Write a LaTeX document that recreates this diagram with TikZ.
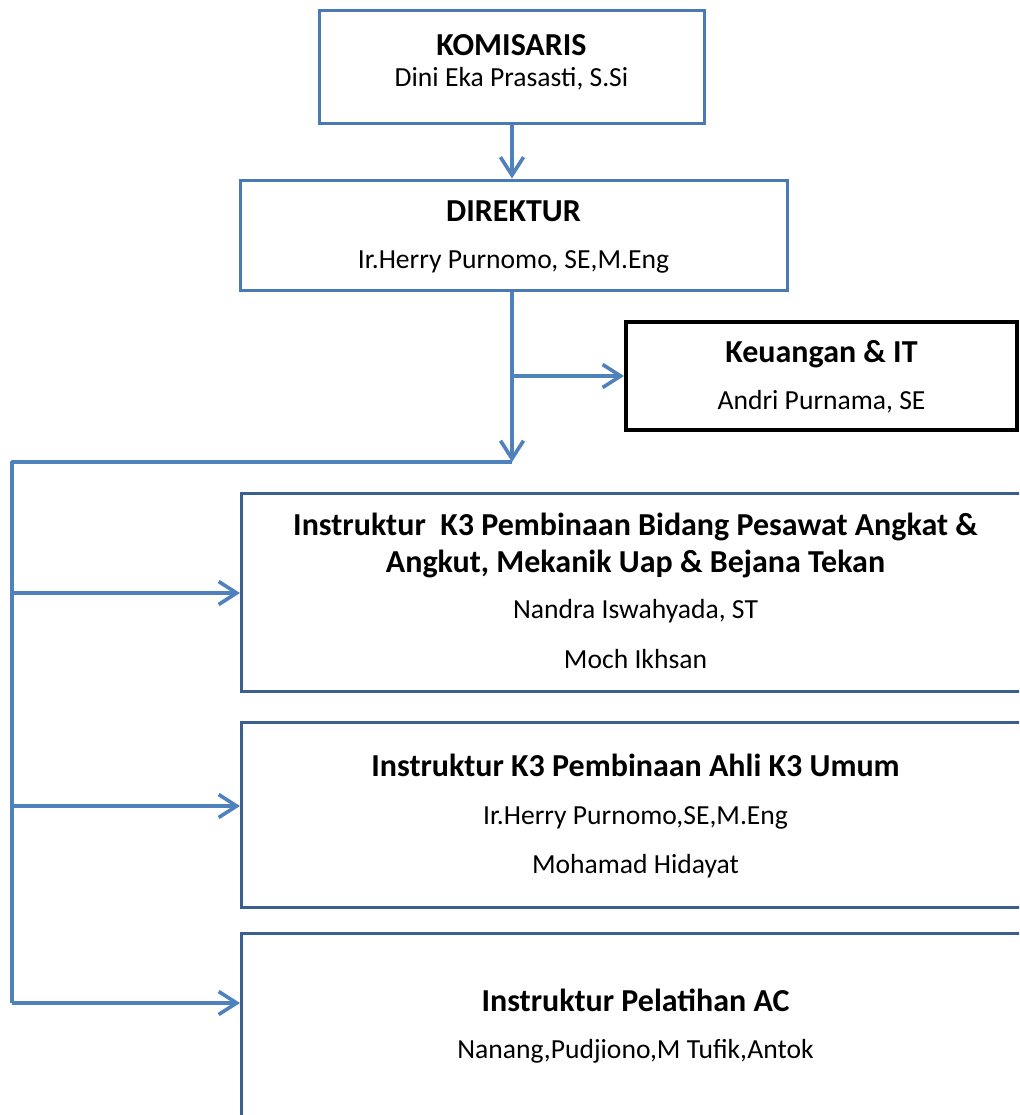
\documentclass[tikz,border=0pt]{standalone}
\usepackage{fontspec}
\setmainfont{Carlito}
\usetikzlibrary{arrows.meta}
\usetikzlibrary{positioning}
\definecolor{linkblue}{HTML}{4F81BD}
\definecolor{boxblue}{HTML}{4A7AB4}
\definecolor{deepblue}{HTML}{3B5F8E}
\newcommand{\orgtitle}[1]{{\fontsize{16}{18.5}\selectfont\bfseries #1}}
\newcommand{\orgname}[1]{{\fontsize{13.8}{16}\selectfont #1}}
\tikzset{
    orgbox/.style = {rectangle, draw=boxblue, line width=1.5pt, align=center,
        inner sep=0pt, font=\fontsize{13.8}{24}\selectfont},
    keubox/.style = {orgbox, draw=black, line width=2pt},% kotak keuangan
    unitbox/.style = {orgbox, draw=deepblue, minimum width=394pt},% kotak instruktur
    link/.style = {draw=linkblue, line width=1.8pt},
}

\begin{document}
\begin{tikzpicture}[x=0.5pt,y=-0.5pt,>={Straight Barb[length=9pt,width=11.5pt]}]
\clip (0,0) rectangle (1019,1115);
% pimpinan
\node [orgbox, minimum width=192.5pt, minimum height=56.5pt] (kom) at (511.5,66.5)
    {\begin{tabular}{@{}c@{}}
     \orgtitle{KOMISARIS}\\[-8.5pt]
     \orgname{Dini Eka Prasasti, S.Si}\\[5pt]\end{tabular}};
\node [orgbox, minimum width=273.5pt, minimum height=55pt] (dir) at (513.5,235)
    {\begin{tabular}{@{}c@{}}
     \orgtitle{DIREKTUR}\\[-0.5pt]
     \orgname{Ir.Herry Purnomo, SE,M.Eng}\end{tabular}};
\node [keubox, minimum width=195.5pt, minimum height=54pt] (keu) at (821.5,376)
    {\begin{tabular}{@{}c@{}}
     \orgtitle{Keuangan \& IT}\\[-0.5pt]
     \orgname{Andri Purnama, SE}\end{tabular}};
% instruktur
\node [unitbox, anchor=north west, minimum height=99pt] (ins1) at (240,492)
    {\begin{tabular}{@{}c@{}}
     \orgtitle{Instruktur\ \ K3 Pembinaan Bidang Pesawat Angkat \&}\\[-5.5pt]
     \orgtitle{Angkut, Mekanik Uap \& Bejana Tekan}\\[-1pt]
     \orgname{Nandra Iswahyada, ST}\\[1pt]
     \orgname{Moch Ikhsan}\end{tabular}};
\node [unitbox, anchor=north west, minimum height=92.5pt] (ins2) at (240,721)
    {\begin{tabular}{@{}c@{}}
     \orgtitle{Instruktur K3 Pembinaan Ahli K3 Umum}\\
     \orgname{Ir.Herry Purnomo,SE,M.Eng}\\[0.5pt]
     \orgname{Mohamad Hidayat}\end{tabular}};
\node [unitbox, anchor=north west, minimum height=91.5pt] (ins3) at (240,932)
    {\begin{tabular}{@{}c@{}}
     \orgtitle{Instruktur Pelatihan AC}\\[-0.5pt]
     \orgname{Nanang,Pudjiono,M Tufik,Antok}\end{tabular}};
% titik sambung
\coordinate (drop) at (512,462);
\coordinate (rail) at (12,462);
\coordinate (tap1) at (12,593);
\coordinate (tap2) at (12,806);
\coordinate (tap3) at (12,1003);
% garis
\draw [link,->] (kom.south -| drop) -- (dir.north -| drop);
\draw [link,->] (dir.south -| drop) -- (drop);
\draw [link,->] (keu.west -| drop) -- (keu.west);
\draw [link,line join=round] (drop) -- (rail) -- (tap3);
\draw [link,->] (tap1) -- (tap1 -| ins1.west);
\draw [link,->] (tap2) -- (tap2 -| ins2.west);
\draw [link,->] (tap3) -- (tap3 -| ins3.west);
\end{tikzpicture}
\end{document}
